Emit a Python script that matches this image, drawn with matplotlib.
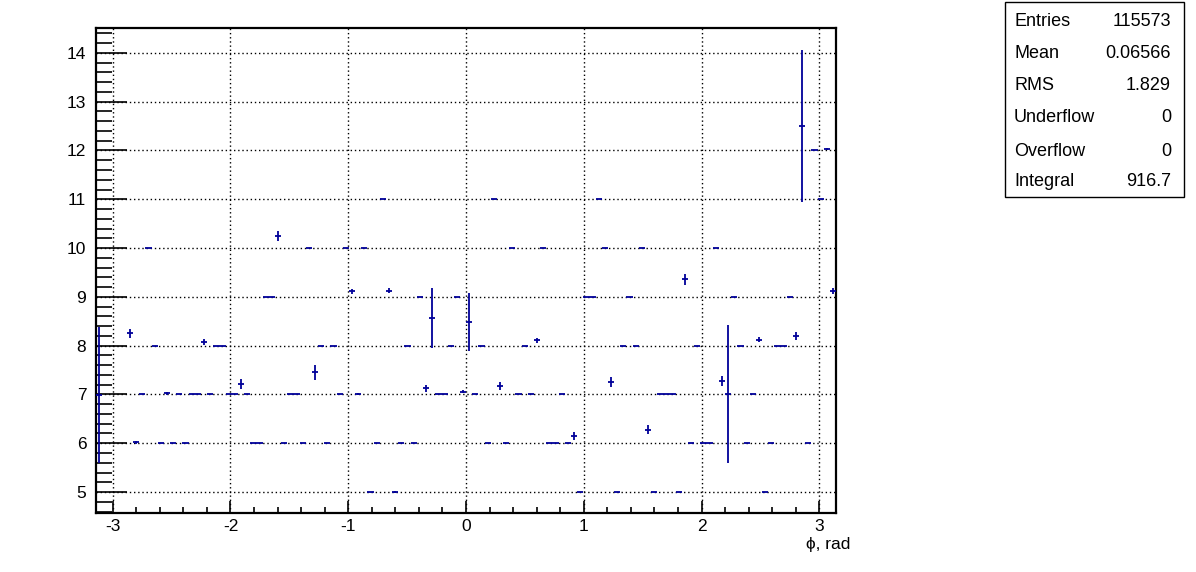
import numpy as np
import matplotlib
matplotlib.use('Agg')
import matplotlib.pyplot as plt
from matplotlib.patches import Rectangle

plt.rcParams['font.family'] = ['Liberation Sans', 'DejaVu Sans']
plt.rcParams['axes.unicode_minus'] = False

# profile: 120 bins in phi from -pi to pi, mean per bin (None = empty bin)
n_bins = 120
bin_means = [6.99, None, None, None, None, 8.25, 6.02, 7, 10, 8,
             6, 7.02, 6, 7, 6, 7, 7, 8.07, 7, 8,
             8, 7, 7, 7.21, 7, 6, 6, 9, 9, 10.25,
             6, 7, 7, 6, 10, 7.45, 8, 6, 8, 7,
             10, 9.11, 7.01, 10, 5, 6, 11, 9.13, 5.01, 6,
             8, 6, 9, 7.13, 8.57, 7, 7, 8, 9, 7.06,
             8.48, 7, 8, 6, 11, 7.18, 6, 10, 7, 8,
             7, 8.11, 10, 6, 6, 7, 6, 6.14, 5, 9,
             9, 11, 10, 7.25, 5, 8, 9, 8, 10, 6.28,
             5, 7, 7, 7, 5, 9.36, 6, 8, 6, 6,
             10, 7.27, 7.01, 9, 8, 6, 7, 8.12, 5, 6,
             8, 8, 9, 8.19, 12.5, 6, 12, 11, 12.03, 9.12]
bin_errors = [1.40, 0, 0, 0, 0, 0.09, 0.03, 0, 0, 0,
              0, 0.03, 0, 0, 0, 0, 0, 0.06, 0, 0,
              0, 0, 0, 0.10, 0, 0, 0, 0, 0, 0.10,
              0, 0, 0, 0, 0, 0.15, 0, 0, 0, 0,
              0, 0.06, 0.02, 0, 0, 0, 0, 0.06, 0.02, 0,
              0, 0, 0, 0.07, 0.62, 0, 0, 0, 0, 0.03,
              0.60, 0, 0, 0, 0, 0.08, 0, 0, 0, 0,
              0, 0.05, 0, 0, 0, 0, 0, 0.08, 0, 0,
              0, 0, 0, 0.10, 0, 0, 0, 0, 0, 0.10,
              0, 0, 0, 0, 0, 0.11, 0, 0, 0, 0,
              0, 0.10, 1.42, 0, 0, 0, 0, 0.05, 0, 0,
              0, 0, 0, 0.08, 1.55, 0, 0, 0, 0.02, 0.06]

x_ticks = [-3, -2, -1, 0, 1, 2, 3]
y_ticks = [5, 6, 7, 8, 9, 10, 11, 12, 13, 14]

stat_names = ['Entries', 'Mean', 'RMS', 'Underflow', 'Overflow', 'Integral']
stat_values = ['115573', '0.06566', '1.829', '0', '0', '916.7']

W, H = 1196, 572
fig = plt.figure(figsize=(W / 100, H / 100), dpi=100)
ax = fig.add_axes([96 / W, (H - 513) / H, 740 / W, 485 / H])

edges = np.linspace(-np.pi, np.pi, n_bins + 1)
centers = 0.5 * (edges[:-1] + edges[1:])
half_w = 0.5 * (edges[1] - edges[0])

filled = [i for i in range(n_bins) if bin_means[i] is not None]
xs = centers[filled]
ys = np.array([bin_means[i] for i in filled])
es = np.array([bin_errors[i] for i in filled])

col = '#000099'
ax.errorbar(xs, ys, xerr=half_w, yerr=es, fmt='none', ecolor=col,
            elinewidth=1.3, capsize=0, zorder=3)

# dotted grid under the data
for xt in x_ticks:
    ax.axvline(xt, color='black', lw=1, ls=(0, (1, 2)), zorder=1)
for yt in y_ticks:
    ax.axhline(yt, color='black', lw=1, ls=(0, (1, 2)), zorder=1)

ax.set_xlim(-np.pi, np.pi)
ax.set_ylim(4.57, 14.51)
ax.set_xticks(x_ticks)
ax.set_xticks(np.arange(-3.0, 3.01, 0.2), minor=True)
ax.set_yticks(y_ticks)
ax.set_yticks(np.arange(4.6, 14.51, 0.2), minor=True)
ax.set_xticklabels([str(t) for t in x_ticks])
ax.set_yticklabels([str(t) for t in y_ticks])

ax.tick_params(axis='both', which='both', direction='in', top=False, right=False,
               labelsize=12.5, width=1.2, color='black')
ax.tick_params(axis='y', which='major', length=22, pad=7)
ax.tick_params(axis='y', which='minor', length=11.5)
ax.tick_params(axis='x', which='major', length=9, pad=4)
ax.tick_params(axis='x', which='minor', length=4.5)
for s in ax.spines.values():
    s.set_linewidth(1.6)

fig.text(850 / W, 1 - 545 / H, '\u03d5, rad', ha='right', va='center', fontsize=12.5)

# stats box
fig.patches.append(Rectangle((1005 / W, 1 - 197 / H), 179 / W, 195 / H,
                             transform=fig.transFigure, facecolor='white',
                             edgecolor='black', lw=1))
row_y = [21, 53, 86, 118, 152, 182]
for name, val, ry in zip(stat_names, stat_values, row_y):
    fig.text(1014 / W, 1 - ry / H, name, ha='left', va='center', fontsize=13)
    fig.text(1171 / W, 1 - ry / H, val, ha='right', va='center', fontsize=13)

fig.savefig('out.png', dpi=100)
